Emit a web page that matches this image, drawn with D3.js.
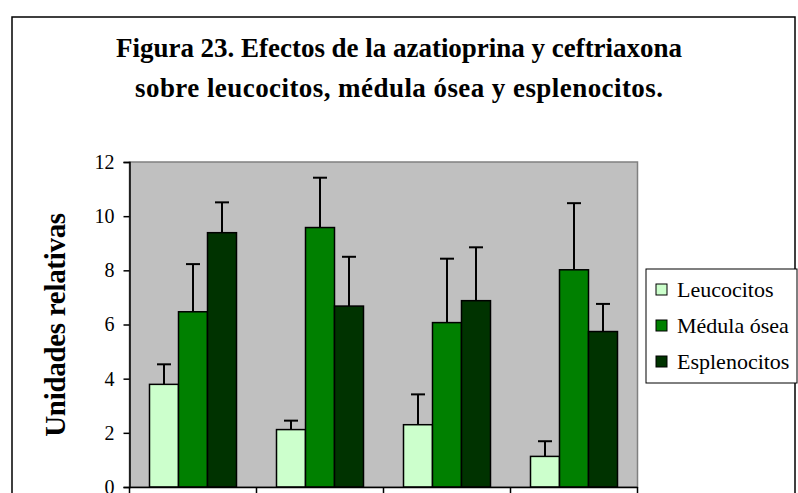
<!DOCTYPE html>
<html>
<head>
<meta charset="utf-8">
<script src="https://cdn.jsdelivr.net/npm/d3@7"></script>
<style>
  body { margin: 0; background: #fff; }
  svg { display: block; }
</style>
</head>
<body>
<svg id="chart" width="798" height="493"></svg>
<script>
// groups (x labels fall below the visible area of the reference)
var categories = ["G1", "G2", "G3", "G4"];
var seriesNames = ["Leucocitos", "Médula ósea", "Esplenocitos"];
var seriesColors = ["#ccffcc", "#008000", "#003300"];

var leucocitos = [3.79, 2.12, 2.30, 1.13];
var leucocitosErr = [0.74, 0.33, 1.12, 0.56];
var medula = [6.47, 9.58, 6.07, 8.02];
var medulaErr = [1.76, 1.84, 2.36, 2.46];
var esplenocitos = [9.39, 6.68, 6.88, 5.74];
var esplenocitosErr = [1.12, 1.82, 1.97, 1.02];

var yTicks = [0, 2, 4, 6, 8, 10, 12];

var titleLines = ["Figura  23. Efectos de la azatioprina y ceftriaxona",
                  "sobre leucocitos, médula ósea y esplenocitos."];
var yLabel = "Unidades relativas";

var svg = d3.select("#chart");

var plot = {left: 129.5, right: 637.5, top: 162, bottom: 487};
var serif = "Liberation Serif, serif";

// outer chart border
svg.append("rect")
    .attr("x", 12).attr("y", 17)
    .attr("width", 783).attr("height", 520)
    .attr("fill", "#fff")
    .attr("stroke", "#000")
    .attr("stroke-width", 1.5);

// title
svg.append("g").selectAll("text")
    .data(titleLines)
    .enter().append("text")
        .attr("x", 399)
        .attr("y", function(d, i) { return 57 + i * 40; })
        .attr("text-anchor", "middle")
        .attr("font-family", serif)
        .attr("font-weight", "bold")
        .attr("font-size", 27)
        .attr("textLength", function(d, i) { return i === 0 ? 566 : 528; })
        .attr("lengthAdjust", "spacing")
        .text(function(d) { return d; });

var x0 = d3.scaleBand().domain(categories).range([plot.left, plot.right]);
var x1 = d3.scaleBand().domain(seriesNames).range([0, x0.bandwidth()])
    .paddingInner(0).paddingOuter(0.69);
var y = d3.scaleLinear().domain([0, 12]).range([plot.bottom, plot.top]);

// plot area background
svg.append("rect")
    .attr("x", plot.left).attr("y", plot.top)
    .attr("width", plot.right - plot.left)
    .attr("height", plot.bottom - plot.top)
    .attr("fill", "#c0c0c0")
    .attr("stroke", "#808080")
    .attr("stroke-width", 1.5);

var rows = categories.map(function(c, i) {
    return {
        cat: c,
        items: [
            {name: seriesNames[0], value: leucocitos[i], err: leucocitosErr[i], color: seriesColors[0]},
            {name: seriesNames[1], value: medula[i], err: medulaErr[i], color: seriesColors[1]},
            {name: seriesNames[2], value: esplenocitos[i], err: esplenocitosErr[i], color: seriesColors[2]}
        ]
    };
});

var groups = svg.append("g").selectAll("g")
    .data(rows)
    .enter().append("g")
        .attr("transform", function(d) { return "translate(" + x0(d.cat) + ",0)"; });

// error bars first so the bars cover the lower part
var errs = groups.selectAll("g.err")
    .data(function(d) { return d.items; })
    .enter().append("g")
        .attr("class", "err")
        .attr("stroke", "#000")
        .attr("stroke-width", 2);
errs.append("line")
    .attr("x1", function(d) { return x1(d.name) + x1.bandwidth() / 2; })
    .attr("x2", function(d) { return x1(d.name) + x1.bandwidth() / 2; })
    .attr("y1", function(d) { return y(d.value); })
    .attr("y2", function(d) { return y(d.value + d.err); });
errs.append("line")
    .attr("x1", function(d) { return x1(d.name) + x1.bandwidth() / 2 - 7; })
    .attr("x2", function(d) { return x1(d.name) + x1.bandwidth() / 2 + 7; })
    .attr("y1", function(d) { return y(d.value + d.err); })
    .attr("y2", function(d) { return y(d.value + d.err); });

groups.selectAll("rect")
    .data(function(d) { return d.items; })
    .enter().append("rect")
        .attr("x", function(d) { return x1(d.name); })
        .attr("y", function(d) { return y(d.value); })
        .attr("width", x1.bandwidth())
        .attr("height", function(d) { return y(0) - y(d.value); })
        .attr("fill", function(d) { return d.color; })
        .attr("stroke", "#000")
        .attr("stroke-width", 1.5);

// y axis
var yAxis = svg.append("g")
    .attr("transform", "translate(" + plot.left + ",0)")
    .call(d3.axisLeft(y).tickValues(yTicks).tickSize(6).tickPadding(9));
yAxis.select(".domain").attr("stroke", "#000").attr("stroke-width", 1.5);
yAxis.selectAll(".tick line").attr("stroke", "#000").attr("stroke-width", 1.5);
yAxis.selectAll(".tick text")
    .attr("font-family", serif)
    .attr("font-size", 20)
    .attr("fill", "#000");

// x axis: ticks on group boundaries, labels fall below the visible area
var xAxis = svg.append("g")
    .attr("transform", "translate(0," + plot.bottom + ")")
    .call(d3.axisBottom(x0).tickSize(0).tickFormat(""));
xAxis.select(".domain").attr("stroke", "#000").attr("stroke-width", 1.5);
xAxis.selectAll(".bound")
    .data(categories.map(function(c) { return x0(c); }).concat([plot.right]))
    .enter().append("line")
        .attr("class", "bound")
        .attr("x1", function(d) { return d; })
        .attr("x2", function(d) { return d; })
        .attr("y1", 0).attr("y2", 7)
        .attr("stroke", "#000")
        .attr("stroke-width", 1.5);

// y axis title
svg.append("text")
    .attr("transform", "translate(65,325) rotate(-90)")
    .attr("text-anchor", "middle")
    .attr("font-family", serif)
    .attr("font-weight", "bold")
    .attr("font-size", 29)
    .attr("letter-spacing", -0.3)
    .text(yLabel);

// legend
var legend = svg.append("g").attr("transform", "translate(646,269)");
legend.append("rect")
    .attr("width", 151).attr("height", 114)
    .attr("fill", "#fff")
    .attr("stroke", "#000")
    .attr("stroke-width", 1);
var item = legend.selectAll("g.item")
    .data(seriesNames)
    .enter().append("g")
        .attr("class", "item")
        .attr("transform", function(d, i) { return "translate(0," + (21 + i * 36) + ")"; });
item.append("rect")
    .attr("x", 10).attr("y", -6)
    .attr("width", 11).attr("height", 11)
    .attr("fill", function(d, i) { return seriesColors[i]; })
    .attr("stroke", "#000")
    .attr("stroke-width", 1);
item.append("text")
    .attr("x", 31).attr("y", 7)
    .attr("font-family", serif)
    .attr("font-size", 22)
    .text(function(d) { return d; });
</script>
</body>
</html>
